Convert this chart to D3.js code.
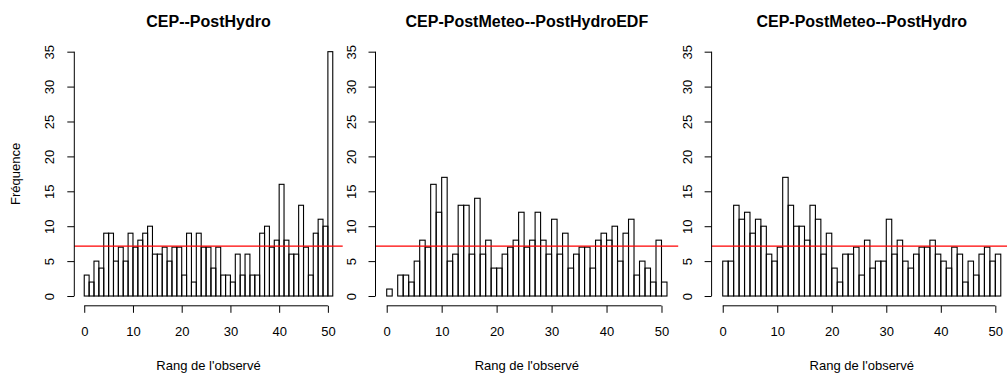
<!DOCTYPE html>
<html><head><meta charset="utf-8">
<script src="https://cdn.jsdelivr.net/npm/d3@7"></script>
<style>
body{margin:0;background:#fff}
svg text{font-family:"Liberation Sans", Arial, Helvetica, sans-serif;fill:#000}
</style>
</head><body>
<svg id="chart" width="1007" height="374"></svg>
<script>
// ---- data ----
const binStarts = [0,1,2,3,4,5,6,7,8,9,10,11,12,13,14,15,16,17,18,19,20,21,22,23,24,25,26,27,28,29,30,31,32,33,34,35,36,37,38,39,40,41,42,43,44,45,46,47,48,49,50];
const countsPostHydro = [3,2,5,4,9,9,5,7,5,9, 7,8,9,10,6,6,7,5,7,7, 3,9,2,9,7,7,4,7,3,3, 2,6,3,6,3,3,9,10,7,8, 16,8,6,6,13,7,3,9,11,10, 35];
const countsPostHydroEDF = [1,0,3,3,2,5,8,7,16,12, 17,5,6,13,13,6,14,6,8,4, 4,6,7,8,12,7,8,12,8,6, 11,6,9,4,6,7,7,4,8,9, 8,10,5,9,11,3,5,4,2,8, 2];
const countsMeteoPostHydro = [5,5,13,11,12,9,11,10,6,5, 7,17,13,10,10,8,13,11,6,9, 4,2,6,6,7,3,8,4,5,5, 11,6,8,5,4,6,7,7,8,6, 5,4,7,6,2,5,3,6,7,5, 6];
const titles = ["CEP--PostHydro", "CEP-PostMeteo--PostHydroEDF", "CEP-PostMeteo--PostHydro"];
const yTicks = [0,5,10,15,20,25,30,35];
const xTicks = [0,10,20,30,40,50];
const refLevel = 7.16;
const xLabel = "Rang de l'observé";
const yLabel = "Fréquence";

const series = [countsPostHydro, countsPostHydroEDF, countsMeteoPostHydro];

// ---- layout ----
const panels = [
  {left: 74.3, right: 342.7},
  {left: 375.5, right: 678.2},
  {left: 711.6, right: 1011.9}
];
const svg = d3.select("#chart");
const y = d3.scaleLinear().domain([-1.4, 36.4]).range([305.8, 41.9]);
const fs = 13;

panels.forEach((p, i) => {
  const x = d3.scaleLinear().domain([-2.04, 53.04]).range([p.left, p.right]);
  const g = svg.append("g");

  // bars
  g.selectAll("rect.bar").data(series[i]).join("rect")
    .attr("class", "bar")
    .attr("x", (d, j) => x(binStarts[j]))
    .attr("width", (d, j) => x(binStarts[j] + 1) - x(binStarts[j]))
    .attr("y", d => y(d))
    .attr("height", d => y(0) - y(d))
    .attr("fill", "none")
    .attr("stroke", "#000")
    .attr("stroke-width", 1.1);

  // reference line
  g.append("line")
    .attr("x1", p.left).attr("x2", p.right)
    .attr("y1", y(refLevel)).attr("y2", y(refLevel))
    .attr("stroke", "#ff0000").attr("stroke-width", 1.2);

  // y axis
  const ya = g.append("g").attr("transform", `translate(${p.left},0)`)
    .call(d3.axisLeft(y).tickValues(yTicks).tickSize(7).tickSizeOuter(0));
  ya.select(".domain").remove();
  ya.append("line").attr("x1", 0).attr("x2", 0)
    .attr("y1", y(yTicks[0])).attr("y2", y(yTicks[yTicks.length - 1]))
    .attr("stroke", "#000");
  ya.selectAll(".tick line").attr("stroke", "#000");
  ya.selectAll(".tick text")
    .attr("x", null).attr("dy", null)
    .attr("text-anchor", "middle")
    .attr("transform", "translate(-20,0) rotate(-90)")
    .style("font-size", fs + "px")
    .style("font-family", '"Liberation Sans", Arial, sans-serif')
    .attr("fill", "#000");

  // x axis
  const xa = g.append("g").attr("transform", `translate(0,${y.range()[0]})`)
    .call(d3.axisBottom(x).tickValues(xTicks).tickSize(7).tickSizeOuter(0).tickPadding(14));
  xa.select(".domain").remove();
  xa.append("line").attr("y1", 0).attr("y2", 0)
    .attr("x1", x(xTicks[0])).attr("x2", x(xTicks[xTicks.length - 1]))
    .attr("stroke", "#000");
  xa.selectAll(".tick line").attr("stroke", "#000");
  xa.selectAll(".tick text")
    .style("font-size", fs + "px")
    .style("font-family", '"Liberation Sans", Arial, sans-serif')
    .attr("fill", "#000");

  const cx = (p.left + p.right) / 2;
  // title
  g.append("text").attr("x", cx).attr("y", 26.5)
    .attr("text-anchor", "middle")
    .style("font-size", "16px").style("font-weight", "bold")
    .text(titles[i]);
  // x label
  g.append("text").attr("x", cx).attr("y", 369.7)
    .attr("text-anchor", "middle")
    .style("font-size", fs + "px")
    .text(xLabel);
});

// y label (first panel only)
svg.append("text")
  .attr("transform", `translate(20,${(y.range()[0] + y.range()[1]) / 2}) rotate(-90)`)
  .attr("text-anchor", "middle")
  .style("font-size", fs + "px")
  .text(yLabel);
</script>
</body></html>
